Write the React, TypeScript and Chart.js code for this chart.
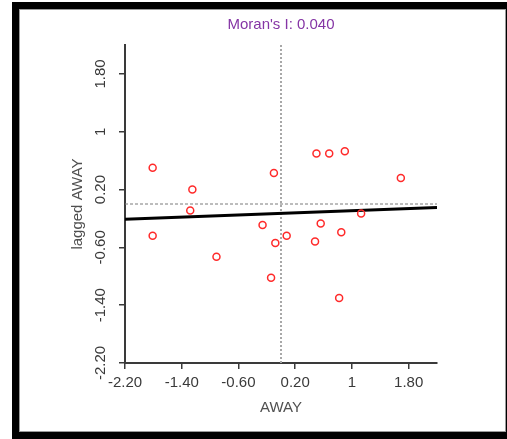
import React, { useEffect, useRef } from 'react';
import { Chart, registerables } from 'chart.js';

Chart.register(...registerables);

// ---- data ----
const xValues = [-1.81, -1.25, -1.28, -1.81, -0.91, -0.10, -0.26, -0.08, 0.08, -0.14, 0.50, 0.68, 0.90, 1.69, 1.13, 0.56, 0.48, 0.85, 0.82];
const yValues = [0.50, 0.20, -0.09, -0.44, -0.73, 0.43, -0.29, -0.54, -0.44, -1.02, 0.70, 0.70, 0.73, 0.36, -0.13, -0.27, -0.52, -0.39, -1.30];

const regressionX = [-2.2, 2.2];
const regressionY = [-0.21, -0.05];

const meanX = 0;
const meanY = 0;

const axisMin = -2.2;
const axisMax = 2.2;

const xTickValues = [-2.2, -1.4, -0.6, 0.2, 1.0, 1.8];
const xTickLabels = ['-2.20', '-1.40', '-0.60', '0.20', '1', '1.80'];
const yTickValues = [-2.2, -1.4, -0.6, 0.2, 1.0, 1.8];
const yTickLabels = ['-2.20', '-1.40', '-0.60', '0.20', '1', '1.80'];

const titleText = "Moran's I: 0.040";
const xTitleText = 'AWAY';
const yTitleText = 'lagged AWAY';

const FAMILY = '"Liberation Sans", Arial, sans-serif';

const titlePlugin = {
  id: 'moranTitle',
  afterDraw(chart: any) {
    const ctx = chart.ctx;
    const { left, right } = chart.chartArea;
    ctx.save();
    ctx.font = `15px ${FAMILY}`;
    ctx.fillStyle = '#8535a5';
    ctx.textAlign = 'center';
    ctx.textBaseline = 'middle';
    ctx.fillText(titleText, (left + right) / 2, 24.5);
    ctx.restore();
  },
};

export default function App() {
  const ref = useRef<HTMLCanvasElement | null>(null);

  useEffect(() => {
    if (!ref.current) return;
    const points = xValues.map((x, i) => ({ x, y: yValues[i] }));
    const regression = regressionX.map((x, i) => ({ x, y: regressionY[i] }));
    const vLine = [
      { x: meanX, y: axisMin },
      { x: meanX, y: axisMax },
    ];
    const hLine = [
      { x: axisMin, y: meanY },
      { x: axisMax, y: meanY },
    ];

    const chart = new Chart(ref.current, {
      type: 'scatter',
      data: {
        datasets: [
          {
            data: points,
            pointStyle: 'circle',
            pointRadius: 3.5,
            pointBorderWidth: 1.5,
            borderColor: '#ff2a2a',
            backgroundColor: 'rgba(255,255,255,0)',
            pointBackgroundColor: 'rgba(255,255,255,0)',
            pointBorderColor: '#ff2a2a',
          },
          {
            data: regression,
            showLine: true,
            borderColor: '#000000',
            borderWidth: 3,
            pointRadius: 0,
          },
          {
            data: hLine,
            showLine: true,
            borderColor: '#7a7a7a',
            borderWidth: 1,
            borderDash: [3, 2],
            pointRadius: 0,
          },
          {
            data: vLine,
            showLine: true,
            borderColor: '#a8a8a8',
            borderWidth: 2,
            borderDash: [2, 2],
            pointRadius: 0,
          },
        ],
      } as any,
      options: {
        responsive: false,
        devicePixelRatio: 1,
        animation: false,
        events: [],
        layout: { padding: { top: 45, right: 70, left: 0, bottom: 0 } },
        plugins: {
          legend: { display: false },
          tooltip: { enabled: false },
          title: { display: false },
        },
        scales: {
          x: {
            type: 'linear',
            min: axisMin,
            max: axisMax,
            afterBuildTicks: (scale: any) => {
              scale.ticks = xTickValues.map((v) => ({ value: v }));
            },
            afterFit: (scale: any) => {
              scale.height = 76;
            },
            ticks: {
              autoSkip: false,
              maxRotation: 0,
              minRotation: 0,
              padding: 5,
              color: '#3a3a3a',
              font: { family: FAMILY, size: 15 },
              callback: (_v: any, i: number) => xTickLabels[i],
            },
            grid: {
              display: true,
              drawOnChartArea: false,
              drawTicks: true,
              tickLength: 6,
              color: '#3a3a3a',
              lineWidth: 1.5,
            },
            border: { display: true, color: '#3a3a3a', width: 2 },
            title: {
              display: true,
              text: xTitleText,
              color: '#505050',
              font: { family: FAMILY, size: 15 },
              padding: { top: 0, bottom: 22 },
            },
          },
          y: {
            type: 'linear',
            min: axisMin,
            max: axisMax,
            afterBuildTicks: (scale: any) => {
              scale.ticks = yTickValues.map((v) => ({ value: v }));
            },
            afterFit: (scale: any) => {
              scale.width = 125;
            },
            ticks: {
              autoSkip: false,
              minRotation: 90,
              maxRotation: 90,
              crossAlign: 'center',
              padding: 1.5,
              color: '#3a3a3a',
              font: { family: FAMILY, size: 15 },
              callback: (_v: any, i: number) => yTickLabels[i],
            },
            grid: {
              display: true,
              drawOnChartArea: false,
              drawTicks: true,
              tickLength: 6,
              color: '#3a3a3a',
              lineWidth: 1.5,
            },
            border: { display: true, color: '#3a3a3a', width: 2 },
            title: {
              display: true,
              text: yTitleText,
              color: '#505050',
              font: { family: FAMILY, size: 15 },
              padding: { top: 69, bottom: 0 },
            },
          },
        },
      } as any,
      plugins: [titlePlugin],
    });
    return () => chart.destroy();
  }, []);

  return (
    <div style={{ position: 'absolute', left: 0, top: 0, width: 507, height: 439, background: '#ffffff', overflow: 'hidden' }}>
      <div style={{ position: 'absolute', left: 12, top: 2, width: 495, height: 437, background: '#000000' }} />
      <div
        style={{
          position: 'absolute',
          left: 19,
          top: 9,
          width: 487,
          height: 423,
          boxSizing: 'border-box',
          border: '1px solid #9a9a9a',
          background: '#ffffff',
        }}
      />
      <canvas ref={ref} width={507} height={439} style={{ position: 'absolute', left: 0, top: 0 }} />
    </div>
  );
}
